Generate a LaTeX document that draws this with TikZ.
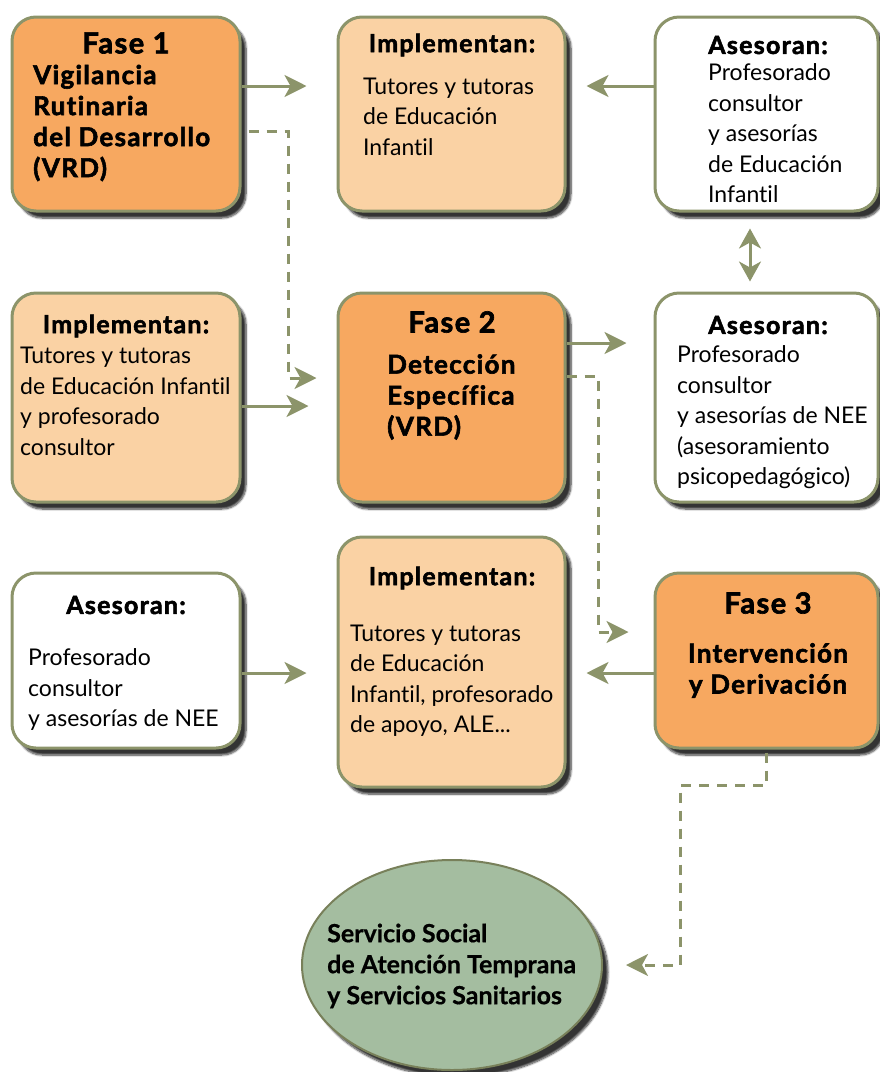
\documentclass[tikz,border=0pt]{standalone}
\usepackage{fontspec}
\setmainfont{Lato}[Ligatures=NoCommon, BoldFeatures={FakeBold=0.6}]
\newfontfamily\heavyfont{Lato}[Ligatures=NoCommon, LetterSpace=5, BoldFeatures={FakeBold=2.2}]
\usetikzlibrary{arrows.meta,shadows.blur,shapes.geometric}
\definecolor{faseorange}{RGB}{247,168,96}
\definecolor{peach}{RGB}{250,210,164}
\definecolor{olive}{RGB}{140,148,106}
\definecolor{sage}{RGB}{164,189,160}
\definecolor{darkolive}{RGB}{120,128,90}
\tikzset{
  boxbase/.style={draw=olive, line width=3pt, rounded corners=24pt, inner sep=0pt,
    blur shadow={shadow xshift=6pt, shadow yshift=-7pt, shadow blur steps=8, shadow blur extra rounding=2pt, shadow opacity=80}},
  phasebox/.style={boxbase, fill=faseorange},
  implbox/.style={boxbase, fill=peach},
  advbox/.style={boxbase, fill=white},
  arr/.style={draw=olive, line width=3pt, -{Stealth[length=22pt, width=22pt, inset=6pt]}},
  dbl/.style={draw=olive, line width=3pt, {Stealth[length=20pt, width=22pt, inset=6pt]}-{Stealth[length=20pt, width=22pt, inset=6pt]}},
  dsh/.style={draw=olive, line width=3pt, dash pattern=on 10pt off 8pt, -{Stealth[length=22pt, width=22pt, inset=6pt]}},
  ttl/.style={font=\heavyfont\fontsize{25}{30}\selectfont\bfseries, inner sep=0pt},
  fasettl/.style={font=\heavyfont\fontsize{29}{30}\selectfont\bfseries, inner sep=0pt},
  fasebody/.style={font=\heavyfont\fontsize{26}{31}\selectfont\bfseries, align=left, inner sep=0pt, anchor=west},
  body/.style={font=\fontsize{23}{30.5}\selectfont, align=left, inner sep=0pt, anchor=west},
}
\begin{document}
\begin{tikzpicture}[x=1pt,y=-1pt]
\useasboundingbox (0,0) rectangle (880,1072);
% boxes
\node[phasebox, minimum width=228pt, minimum height=194pt] (f1) at (126,114) {};
\node[implbox, minimum width=227pt, minimum height=194pt] (imp1) at (451.5,114) {};
\node[advbox, minimum width=223pt, minimum height=194pt] (as1) at (766.5,114) {};
\node[implbox, minimum width=228pt, minimum height=209pt] (imp2) at (126,397.5) {};
\node[phasebox, minimum width=227pt, minimum height=209pt] (f2) at (451.5,397.5) {};
\node[advbox, minimum width=223pt, minimum height=209pt] (as2) at (766.5,397.5) {};
\node[advbox, minimum width=228pt, minimum height=175pt] (as3) at (126,660.5) {};
\node[implbox, minimum width=227pt, minimum height=250pt] (imp3) at (451.5,662) {};
\node[phasebox, minimum width=223pt, minimum height=175pt] (f3) at (766.5,660.5) {};
\node[ellipse, draw=darkolive, line width=2pt, fill=sage, minimum width=300pt, minimum height=210pt, inner sep=0pt,
  blur shadow={shadow xshift=6pt, shadow yshift=-7pt, shadow blur steps=8, shadow opacity=80}] (ell) at (452,965) {};
% texts
\node[fasettl] (f1t) at (126,43) {Fase 1};
\node[fasebody] (f1b) at (33,123) {Vigilancia\\Rutinaria\\del Desarrollo\\(VRD)};
\node[ttl] (imp1t) at (452,45) {Implementan:};
\node[body] (imp1b) at (363,116.5) {Tutores y tutoras\\de Educación\\Infantil};
\node[ttl] (as1t) at (768,45) {Asesoran:};
\node[body] (as1b) at (708,133.5) {Profesorado\\consultor\\y asesorías\\de Educación\\Infantil};
\node[ttl] (imp2t) at (126,326) {Implementan:};
\node[body] (imp2b) at (20,401.5) {Tutores y tutoras\\de Educación Infantil\\y profesorado\\consultor};
\node[fasettl] (f2t) at (452,322) {Fase 2};
\node[fasebody] (f2b) at (387,397) {Detección\\Específica\\(VRD)};
\node[ttl] (as2t) at (768,325) {Asesoran:};
\node[body] (as2b) at (677,417.5) {Profesorado\\consultor\\y asesorías de NEE\\(asesoramiento\\psicopedagógico)};
\node[ttl] (as3t) at (126,605) {Asesoran:};
\node[body] (as3b) at (28,689.5) {Profesorado\\consultor\\y asesorías de NEE};
\node[ttl] (imp3t) at (452,578) {Implementan:};
\node[body] (imp3b) at (350,680.5) {Tutores y tutoras\\de Educación\\Infantil, profesorado\\de apoyo, ALE...};
\node[fasettl] (f3t) at (768,603) {Fase 3};
\node[fasebody, align=center, anchor=center] (f3b) at (768,670.5) {Intervención\\y Derivación};
\node[body, font=\fontsize{25}{31}\selectfont\bfseries] (ellb) at (327,966) {Servicio Social\\de Atención Temprana\\y Servicios Sanitarios};
% helper coordinates
\coordinate (y86) at (0,86);
\coordinate (y131) at (0,131);
\coordinate (y378) at (0,378);
\coordinate (y406) at (0,406);
\coordinate (y343) at (0,343);
\coordinate (y376) at (0,376);
\coordinate (y632) at (0,632);
\coordinate (y673) at (0,673);
\coordinate (x750) at (750,0);
\coordinate (b1) at (288,131);
\coordinate (b2) at (288,378);
\coordinate (b3) at (598,376);
\coordinate (b4) at (598,632);
\coordinate (b5) at (766,785);
\coordinate (b6) at (680,785);
\coordinate (b7) at (680,965);
\coordinate (x766) at (766,0);
% connectors
\draw[arr, shorten >=30pt] (f1.east |- y86) -- (imp1.west |- y86);
\draw[arr, shorten >=20pt] (as1.west |- y86) -- (imp1.east |- y86);
\draw[dsh, shorten <=7pt, shorten >=20pt] (f1.east |- y131) -- (b1) -- (b2) -- (f2.west |- y378);
\draw[dbl, shorten <=16pt, shorten >=10pt] (as1.south -| x750) -- (as2.north -| x750);
\draw[arr, shorten >=28pt] (imp2.east |- y406) -- (f2.west |- y406);
\draw[arr, shorten >=27pt] (f2.east |- y343) -- (as2.west |- y343);
\draw[dsh, shorten >=25pt] (f2.east |- y376) -- (b3) -- (b4) -- (f3.west |- y632);
\draw[arr, shorten >=30pt] (as3.east |- y673) -- (imp3.west |- y673);
\draw[arr, shorten >=20pt] (f3.west |- y673) -- (imp3.east |- y673);
\draw[dsh, shorten <=3pt, shorten >=23pt] (f3.south -| x766) -- (b5) -- (b6) -- (b7) -- (ell.east |- b7);
\end{tikzpicture}
\end{document}
